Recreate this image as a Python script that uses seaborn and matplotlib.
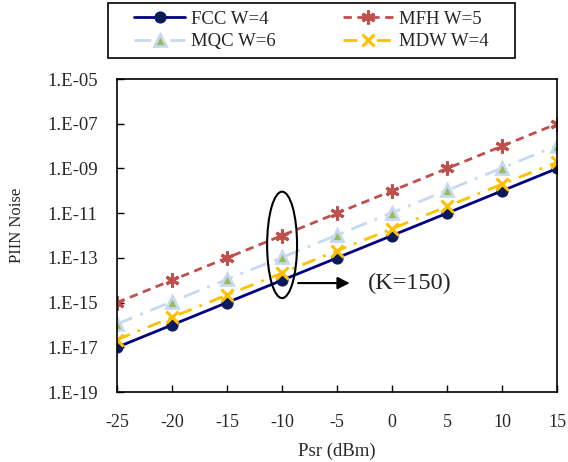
import matplotlib
matplotlib.use("Agg")
import matplotlib.pyplot as plt
import seaborn as sns
import pandas as pd
from matplotlib.patches import Ellipse, Rectangle

# Data
psr = [-25, -20, -15, -10, -5, 0, 5, 10, 15]
fcc = [1e-17, 1e-16, 1e-15, 1e-14, 1e-13, 1e-12, 1e-11, 1e-10, 1e-9]
mfh = [1e-15, 1e-14, 1e-13, 1e-12, 1e-11, 1e-10, 1e-9, 1e-8, 1e-7]
mqc = [1.1e-16, 1.1e-15, 1.1e-14, 1.05e-13, 1.05e-12, 1.05e-11, 1.05e-10, 1.05e-9, 1.05e-8]
mdw = [2.2e-17, 2.2e-16, 2.2e-15, 2.1e-14, 2.1e-13, 2.0e-12, 2.0e-11, 2.0e-10, 1.9e-9]
ytick_vals = [1e-19, 1e-17, 1e-15, 1e-13, 1e-11, 1e-9, 1e-7, 1e-5]
ytick_labels = ["1.E-19", "1.E-17", "1.E-15", "1.E-13", "1.E-11", "1.E-09", "1.E-07", "1.E-05"]

sns.set_style("ticks")
plt.rcParams["font.family"] = ["Liberation Serif", "DejaVu Serif"]

fig = plt.figure(figsize=(5.68, 4.62), dpi=100)
ax = fig.add_axes([0.206, 0.1515, 0.775, 0.6775])

# series: label, values, style
series = [
    ("FCC W=4", fcc, dict(color="#000080", linestyle="-", marker="o", markersize=8,
                          markerfacecolor="#0a1a5c", markeredgecolor="#0a1a5c")),
    ("MFH W=5", mfh, dict(color="#c0504d", linestyle=(0, (3, 2)), marker=(6, 2, 0), markersize=10,
                          markeredgewidth=2.2, markeredgecolor="#c0504d")),
    ("MQC W=6", mqc, dict(color="#c6d9f1", linestyle=(0, (6, 3, 1, 3)), marker="^", markersize=9,
                          markerfacecolor="#9bbb59", markeredgecolor="#c6d9f1", markeredgewidth=2)),
    ("MDW W=4", mdw, dict(color="#ffc000", linestyle=(0, (5, 3, 1, 3)), marker="x", markersize=9,
                          markeredgewidth=2.2, markeredgecolor="#ffc000")),
]

for label, vals, style in series:
    df = pd.DataFrame({"Psr": psr, "PIIN": vals})
    sns.lineplot(data=df, x="Psr", y="PIIN", ax=ax, label=label, linewidth=2, **style)

ax.set_yscale("log")
ax.set_xlim(-25, 15)
ax.set_ylim(1e-19, 1e-5)
ax.set_xticks(psr)
ax.set_xticklabels([str(v) for v in psr], fontsize=13)
ax.set_yticks(ytick_vals)
ax.set_yticklabels(ytick_labels, fontsize=13.5)
ax.minorticks_off()
ax.tick_params(direction="in", length=5, width=1, color="black")
ax.tick_params(axis="y", pad=14)
ax.tick_params(axis="x", pad=16)
for sp in ax.spines.values():
    sp.set_color("black")
    sp.set_linewidth(1.2)

ax.set_xlabel("Psr (dBm)", fontsize=13.5, labelpad=8)
ax.set_ylabel("PIIN Noise", fontsize=12)
ax.yaxis.set_label_coords(-0.209, 0.533)

# annotation: ellipse around -10 dBm points, arrow and text
ax.add_patch(Ellipse((0.375, 0.47), 0.068, 0.34, transform=ax.transAxes,
                     fill=False, edgecolor="black", linewidth=1.5, zorder=5))
ax.annotate("", xy=(0.535, 0.348), xytext=(0.405, 0.348), xycoords="axes fraction",
            arrowprops=dict(arrowstyle="-|>", color="black", lw=1.5, mutation_scale=18))
ax.text(0.57, 0.348, "(K=150)", transform=ax.transAxes, fontsize=17.5, va="center", ha="left")

handles, labels = ax.get_legend_handles_labels()
ax.get_legend().remove()
order = [0, 2, 1, 3]  # row-wise: FCC, MFH / MQC, MDW
fig.legend([handles[i] for i in order], [labels[i] for i in order], ncol=2,
           loc="center", bbox_to_anchor=(311.5 / 568, 1 - 30.5 / 462),
           fontsize=13.5, frameon=False, handlelength=2.7, handletextpad=0.3,
           columnspacing=3.6, labelspacing=0.28)
# legend box drawn separately (wide side padding in the reference)
fig.patches.append(Rectangle((108 / 568, 1 - 58 / 462), 407 / 568, 55 / 462,
                             transform=fig.transFigure, fill=False,
                             edgecolor="black", linewidth=1.2))

fig.savefig("out.png", dpi=100)
